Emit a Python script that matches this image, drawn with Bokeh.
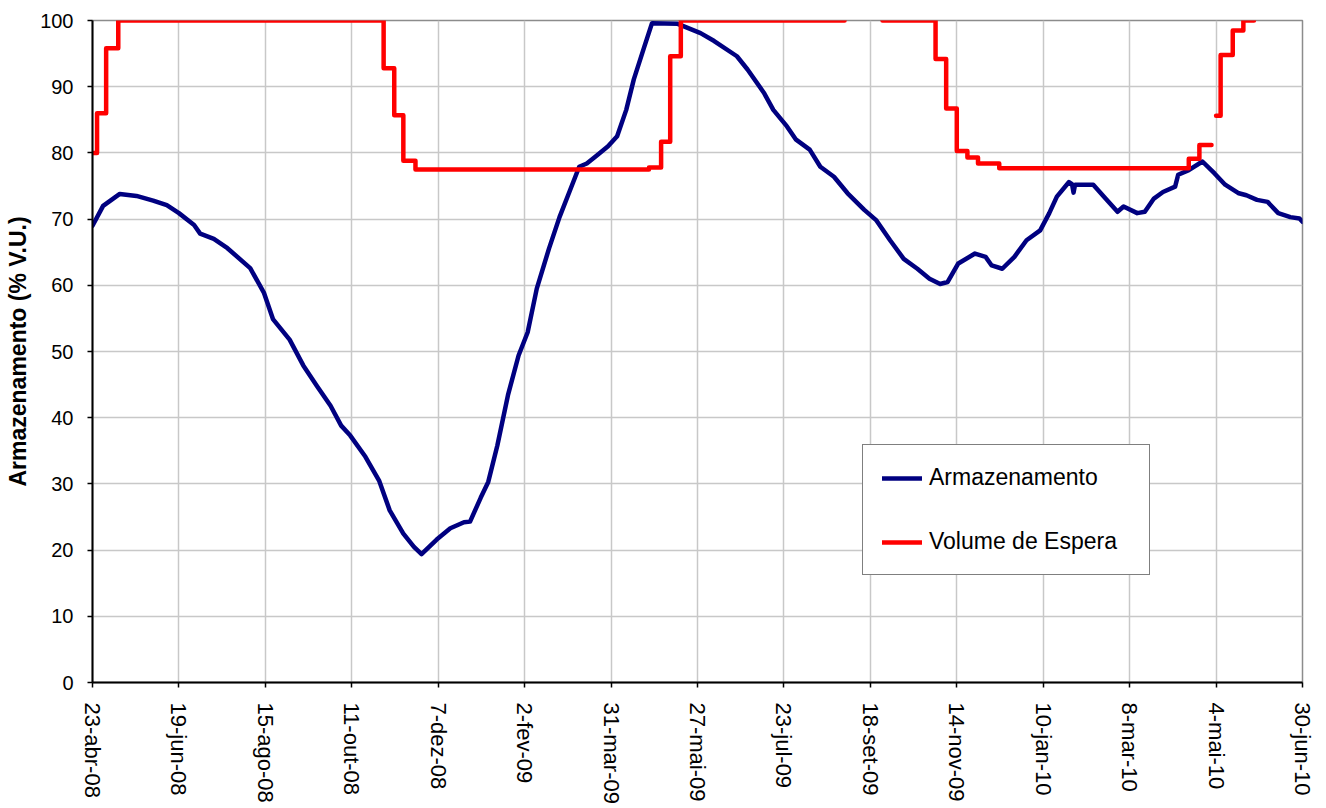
import math
import pandas as pd
from bokeh.plotting import figure
from bokeh.models import FixedTicker, Legend, LegendItem, Range1d
from bokeh.embed import file_html
from bokeh.resources import INLINE

start = pd.Timestamp("2008-04-23")

tick_dates = ["2008-04-23", "2008-06-19", "2008-08-15", "2008-10-11", "2008-12-07",
              "2009-02-02", "2009-03-31", "2009-05-27", "2009-07-23", "2009-09-18",
              "2009-11-14", "2010-01-10", "2010-03-08", "2010-05-04", "2010-06-30"]
tick_labels = ["23-abr-08", "19-jun-08", "15-ago-08", "11-out-08", "7-dez-08",
               "2-fev-09", "31-mar-09", "27-mai-09", "23-jul-09", "18-set-09",
               "14-nov-09", "10-jan-10", "8-mar-10", "4-mai-10", "30-jun-10"]

arm_dates = ["2008-04-23", "2008-04-30", "2008-05-11", "2008-05-22", "2008-06-02", "2008-06-11",
             "2008-06-19", "2008-06-29", "2008-07-03", "2008-07-12", "2008-07-21", "2008-08-05",
             "2008-08-14", "2008-08-20", "2008-08-31", "2008-09-09", "2008-09-18", "2008-09-27",
             "2008-10-04", "2008-10-10", "2008-10-20", "2008-10-29", "2008-11-05", "2008-11-14",
             "2008-11-21", "2008-11-26", "2008-12-06", "2008-12-15", "2008-12-24", "2008-12-28",
             "2009-01-04", "2009-01-09", "2009-01-15", "2009-01-22", "2009-01-29", "2009-02-04",
             "2009-02-10", "2009-02-18", "2009-02-25", "2009-03-04", "2009-03-10", "2009-03-15",
             "2009-03-22", "2009-03-29", "2009-04-04", "2009-04-10", "2009-04-15", "2009-04-22",
             "2009-04-27", "2009-05-14", "2009-05-29", "2009-06-07", "2009-06-22", "2009-06-29",
             "2009-07-10", "2009-07-16", "2009-07-25", "2009-07-31", "2009-08-09", "2009-08-16",
             "2009-08-25", "2009-09-03", "2009-09-14", "2009-09-22", "2009-10-01", "2009-10-10",
             "2009-10-19", "2009-10-27", "2009-11-03", "2009-11-08", "2009-11-15", "2009-11-26",
             "2009-12-03", "2009-12-07", "2009-12-14", "2009-12-22", "2009-12-30", "2010-01-08",
             "2010-01-14", "2010-01-19", "2010-01-27", "2010-01-29", "2010-01-30", "2010-01-31",
             "2010-02-03", "2010-02-12", "2010-02-21", "2010-02-28", "2010-03-04", "2010-03-13",
             "2010-03-18", "2010-03-24", "2010-03-30", "2010-04-07", "2010-04-09", "2010-04-16",
             "2010-04-25", "2010-05-03", "2010-05-10", "2010-05-19", "2010-05-24", "2010-05-31",
             "2010-06-07", "2010-06-14", "2010-06-22", "2010-06-28", "2010-06-30"]
arm_values = [69.0, 72.0, 73.8, 73.5, 72.8, 72.1,
              70.9, 69.1, 67.8, 67.0, 65.6, 62.6,
              58.9, 54.9, 51.8, 47.9, 44.8, 41.8,
              38.8, 37.3, 34.1, 30.5, 26.0, 22.5,
              20.5, 19.4, 21.6, 23.3, 24.2, 24.3,
              27.9, 30.3, 35.8, 43.4, 49.4, 52.9,
              59.5, 65.5, 70.3, 74.4, 77.9, 78.4,
              79.7, 81.0, 82.5, 86.5, 91.1, 96.1,
              99.6, 99.5, 98.1, 96.9, 94.6, 92.6,
              89.0, 86.5, 84.0, 82.0, 80.5, 77.9,
              76.4, 73.9, 71.4, 69.8, 66.8, 64.0,
              62.5, 61.0, 60.2, 60.5, 63.3, 64.8,
              64.3, 63.0, 62.5, 64.3, 66.8, 68.3,
              70.9, 73.4, 75.6, 75.3, 74.0, 75.2,
              75.2, 75.2, 72.9, 71.1, 71.9, 70.9,
              71.1, 73.1, 74.1, 74.9, 76.7, 77.4,
              78.7, 76.9, 75.2, 73.9, 73.6, 72.9,
              72.6, 70.9, 70.3, 70.1, 69.6]

# Volume de Espera: level valid from each date until the next one (nan = no data)
nan = float("nan")
esp_dates = ["2008-04-23", "2008-04-26", "2008-05-02", "2008-05-10", "2008-11-01", "2008-11-08",
             "2008-11-14", "2008-11-22", "2009-04-25", "2009-05-03", "2009-05-09", "2009-05-16",
             "2009-09-01", "2009-09-26", "2009-10-31", "2009-11-07", "2009-11-14", "2009-11-21",
             "2009-11-28", "2009-12-12", "2010-04-16", "2010-04-23", "2010-05-01", "2010-05-04",
             "2010-05-07", "2010-05-15", "2010-05-22", "2010-05-29"]
esp_values = [80.0, 86.0, 95.8, 100.0, 92.8, 85.7,
              78.8, 77.5, 77.8, 81.7, 94.6, 100.0,
              nan, 100.0, 94.2, 86.7, 80.3, 79.3,
              78.4, 77.7, 79.1, 81.2, nan, 85.6,
              94.8, 98.5, 100.0, nan]


def to_days(ds):
    return [(pd.Timestamp(d) - start).days for d in ds]


tick_x = to_days(tick_dates)
arm_x = to_days(arm_dates)
esp_d = to_days(esp_dates)

# build stair path for the step series
esp_x, esp_y = [], []
for i in range(len(esp_d) - 1):
    v = esp_values[i]
    if math.isnan(v):
        esp_x.append(nan)
        esp_y.append(nan)
        continue
    esp_x += [esp_d[i], esp_d[i + 1]]
    esp_y += [v, v]

FONT = "Liberation Sans"

p = figure(width=1320, height=806, output_backend="svg", toolbar_location=None,
           x_range=Range1d(tick_x[0], tick_x[-1]), y_range=Range1d(0, 100))
p.min_border_left = 92
p.min_border_right = 18
p.min_border_top = 20
p.min_border_bottom = 124
p.background_fill_color = "white"
p.border_fill_color = "white"
p.outline_line_color = "#8c8c8c"
p.outline_line_width = 1.5

r_arm = p.line(arm_x, arm_values, line_color="#000080", line_width=4.5,
               line_join="round", line_cap="round")
r_esp = p.line(esp_x, esp_y, line_color="#ff0000", line_width=4.5,
               line_join="round", line_cap="round")

# axes
p.xaxis.ticker = FixedTicker(ticks=tick_x)
p.xaxis.major_label_overrides = {t: l for t, l in zip(tick_x, tick_labels)}
p.xaxis.major_label_orientation = -math.pi / 2
p.yaxis.ticker = FixedTicker(ticks=list(range(0, 101, 10)))

for ax in (p.xaxis, p.yaxis):
    ax.major_label_text_font = FONT
    ax.major_label_text_font_size = "20px"
    ax.major_label_text_color = "black"
    ax.axis_line_color = "black"
    ax.axis_line_width = 2
    ax.major_tick_line_color = "black"
    ax.major_tick_line_width = 1.5
    ax.major_tick_in = 0
    ax.major_tick_out = 5
    ax.minor_tick_line_color = None

p.xaxis.major_label_text_font_size = "22px"
p.xaxis.major_label_standoff = 15
p.yaxis.major_label_standoff = 14
p.yaxis.axis_label = "Armazenamento (% V.U.)"
p.yaxis.axis_label_text_font = FONT
p.yaxis.axis_label_text_font_style = "bold"
p.yaxis.axis_label_text_font_size = "23px"
p.yaxis.axis_label_text_color = "black"
p.yaxis.axis_label_standoff = 6

p.xgrid.ticker = FixedTicker(ticks=tick_x)
for g in (p.xgrid, p.ygrid):
    g.grid_line_color = "#c8c8c8"
    g.grid_line_width = 1.5

legend = Legend(items=[LegendItem(label="Armazenamento", renderers=[r_arm]),
                       LegendItem(label="Volume de Espera", renderers=[r_esp])],
                location=(770, 107))
legend.label_text_font = FONT
legend.label_text_font_size = "23px"
legend.label_text_color = "black"
legend.glyph_width = 40
legend.glyph_height = 16
legend.label_height = 16
legend.label_width = 201
legend.label_standoff = 7
legend.padding = 19
legend.spacing = 37
legend.margin = 0
legend.border_line_color = "black"
legend.border_line_width = 1.5
legend.background_fill_color = "white"
legend.background_fill_alpha = 1
p.add_layout(legend)

open("out.html", "w").write(file_html(p, INLINE))
